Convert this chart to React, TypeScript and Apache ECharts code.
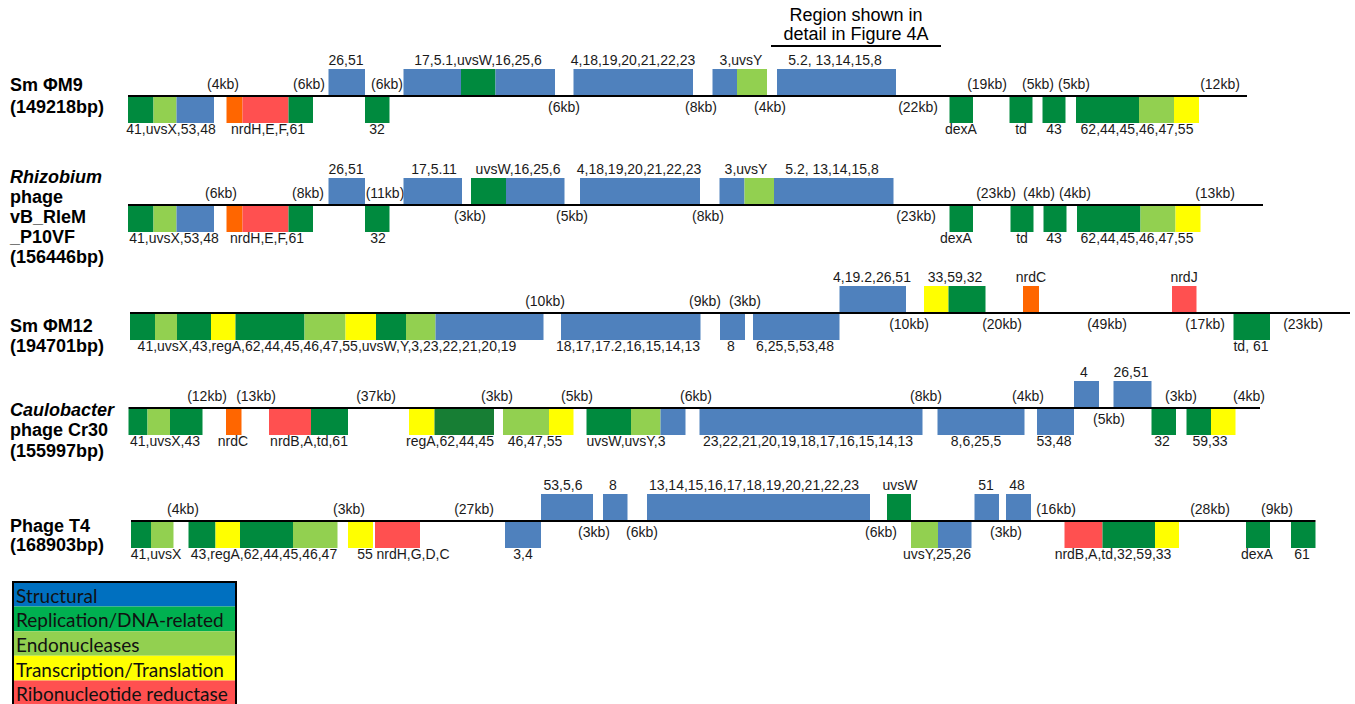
import React, { useEffect, useRef } from "react";
import * as echarts from "echarts";

// ---------- DATA ----------
// block: [start, end, kind, side]  side 1 = above backbone, -1 = below
// kinds: S structural, R replication, E endonuclease, T transcription, N nrd (red), O nrd (orange), D replication (dark)
type Block = [number, number, string, number];
// label: [centre, text, side]
type Lbl = [number, string, number];

const genomeNames: string[][] = [
  ["Sm ΦM9", "(149218bp)"],
  ["Rhizobium", "phage", "vB_RleM", "_P10VF", "(156446bp)"],
  ["Sm ΦM12", "(194701bp)"],
  ["Caulobacter", "phage Cr30", "(155997bp)"],
  ["Phage T4", "(168903bp)"],
];

const backbones: number[][] = [
  [128, 1247],
  [128, 1263],
  [130, 1350],
  [128.5, 1260],
  [131, 1315.5],
];

const m9Blocks: Block[] = [
  [128, 153.5, "R", -1], [153.5, 176.5, "E", -1], [176.5, 214, "S", -1],
  [226.5, 242.5, "O", -1], [242.5, 288.5, "N", -1], [288.5, 313, "R", -1],
  [328.5, 365, "S", 1], [365, 389.5, "R", -1],
  [403.5, 461, "S", 1], [461, 495.5, "R", 1], [495.5, 555, "S", 1],
  [573.5, 693, "S", 1],
  [712.5, 737, "S", 1], [737, 767, "E", 1],
  [777, 896, "S", 1],
  [949.5, 973, "R", -1], [1009.5, 1032.5, "R", -1], [1042.5, 1065.5, "R", -1],
  [1076, 1139, "R", -1], [1139, 1174, "E", -1], [1174, 1199, "T", -1],
];
const m9Genes: Lbl[] = [
  [171, "41,uvsX,53,48", -1], [268, "nrdH,E,F,61", -1], [377, "32", -1],
  [961, "dexA", -1], [1021, "td", -1], [1054, "43", -1], [1137, "62,44,45,46,47,55", -1],
  [346, "26,51", 1], [478, "17,5.1,uvsW,16,25,6", 1], [633, "4,18,19,20,21,22,23", 1],
  [741, "3,uvsY", 1], [835, "5.2, 13,14,15,8", 1],
];
const m9Gaps: Lbl[] = [
  [223, "(4kb)", 1], [309, "(6kb)", 1], [387, "(6kb)", 1], [564, "(6kb)", -1],
  [701, "(8kb)", -1], [770, "(4kb)", -1], [918, "(22kb)", -1], [987, "(19kb)", 1],
  [1038, "(5kb)", 1], [1074, "(5kb)", 1], [1220, "(12kb)", 1],
];

const rlemBlocks: Block[] = [
  [128, 153.5, "R", -1], [153.5, 176.5, "E", -1], [176.5, 214, "S", -1],
  [226.5, 242.5, "O", -1], [242.5, 288.5, "N", -1], [288.5, 313, "R", -1],
  [328.5, 365, "S", 1], [365, 389.5, "R", -1],
  [403.5, 462, "S", 1], [471, 506, "R", 1], [506, 564.5, "S", 1],
  [580, 700, "S", 1],
  [719.5, 744.5, "S", 1], [744.5, 774, "E", 1], [774, 893.5, "S", 1],
  [949.5, 973, "R", -1], [1010.5, 1033.5, "R", -1], [1043.5, 1066.5, "R", -1],
  [1077, 1140.5, "R", -1], [1140.5, 1175.5, "E", -1], [1175.5, 1200.5, "T", -1],
];
const rlemGenes: Lbl[] = [
  [174, "41,uvsX,53,48", -1], [267, "nrdH,E,F,61", -1], [378, "32", -1],
  [956, "dexA", -1], [1022, "td", -1], [1054, "43", -1], [1137, "62,44,45,46,47,55", -1],
  [346, "26,51", 1], [434, "17,5.11", 1], [518, "uvsW,16,25,6", 1],
  [639, "4,18,19,20,21,22,23", 1], [746, "3,uvsY", 1], [832, "5.2, 13,14,15,8", 1],
];
const rlemGaps: Lbl[] = [
  [221, "(6kb)", 1], [308, "(8kb)", 1], [385, "(11kb)", 1], [470, "(3kb)", -1],
  [572, "(5kb)", -1], [708, "(8kb)", -1], [916, "(23kb)", -1], [996, "(23kb)", 1],
  [1039, "(4kb)", 1], [1075, "(4kb)", 1], [1215, "(13kb)", 1],
];

const m12Blocks: Block[] = [
  [130, 155, "R", -1], [155, 177, "E", -1], [177, 211, "R", -1], [211, 235.5, "T", -1],
  [235.5, 304.5, "R", -1], [304.5, 345.5, "E", -1], [345.5, 376, "T", -1], [376, 406, "R", -1],
  [406, 435.5, "E", -1], [435.5, 543.5, "S", -1], [561, 700.5, "S", -1], [720, 745, "S", -1],
  [753, 839.5, "S", -1], [839.5, 906, "S", 1], [924, 948.5, "T", 1], [948.5, 985.5, "R", 1],
  [1023, 1039, "O", 1], [1172, 1196.5, "N", 1], [1233.5, 1270, "R", -1],
];
const m12Genes: Lbl[] = [
  [327, "41,uvsX,43,regA,62,44,45,46,47,55,uvsW,Y,3,23,22,21,20,19", -1],
  [628, "18,17,17.2,16,15,14,13", -1], [731, "8", -1], [795, "6,25,5,53,48", -1],
  [1251, "td, 61", -1],
  [872, "4,19.2,26,51", 1], [955, "33,59,32", 1], [1031, "nrdC", 1], [1184, "nrdJ", 1],
];
const m12Gaps: Lbl[] = [
  [545, "(10kb)", 1], [705, "(9kb)", 1], [745, "(3kb)", 1], [909, "(10kb)", -1],
  [1002, "(20kb)", -1], [1107, "(49kb)", -1], [1205, "(17kb)", -1], [1303, "(23kb)", -1],
];

const cr30Blocks: Block[] = [
  [128.5, 147.5, "R", -1], [147.5, 170, "E", -1], [170, 202.5, "R", -1],
  [226, 241.5, "O", -1], [269, 311, "N", -1], [311, 348, "R", -1],
  [409, 434.5, "T", -1], [434.5, 494, "D", -1], [503, 549, "E", -1], [549, 573.5, "T", -1],
  [586.5, 631, "R", -1], [631, 660.5, "E", -1], [660.5, 685.5, "S", -1],
  [699.5, 922.5, "S", -1], [937.5, 1024.5, "S", -1], [1037, 1074, "S", -1],
  [1074, 1099, "S", 1], [1113.5, 1151.5, "S", 1], [1151.5, 1176, "R", -1],
  [1186.5, 1211, "R", -1], [1211, 1235.5, "T", -1],
];
const cr30Genes: Lbl[] = [
  [165, "41,uvsX,43", -1], [233, "nrdC", -1], [309, "nrdB,A,td,61", -1],
  [450, "regA,62,44,45", -1], [535, "46,47,55", -1], [626, "uvsW,uvsY,3", -1],
  [808, "23,22,21,20,19,18,17,16,15,14,13", -1], [976, "8,6,25,5", -1],
  [1054, "53,48", -1], [1162, "32", -1], [1210, "59,33", -1],
  [1084, "4", 1], [1131, "26,51", 1],
];
const cr30Gaps: Lbl[] = [
  [207, "(12kb)", 1], [256, "(13kb)", 1], [376, "(37kb)", 1], [497, "(3kb)", 1],
  [577, "(5kb)", 1], [696, "(6kb)", 1], [926, "(8kb)", 1], [1028, "(4kb)", 1],
  [1109, "(5kb)", -1], [1181, "(3kb)", 1], [1249, "(4kb)", 1],
];

const t4Blocks: Block[] = [
  [131, 151, "R", -1], [151, 173.5, "E", -1], [188.5, 215.5, "R", -1], [215.5, 240, "T", -1],
  [240, 293, "R", -1], [293, 337.5, "E", -1], [348, 373, "T", -1], [375, 420, "N", -1],
  [505, 541, "S", -1], [541, 593, "S", 1], [603, 627.5, "S", 1], [647, 870, "S", 1],
  [887, 911, "R", 1], [911, 938, "E", -1], [938, 971.5, "S", -1],
  [974.5, 999, "S", 1], [1006, 1031, "S", 1],
  [1064.5, 1102.5, "N", -1], [1102.5, 1155, "R", -1], [1155, 1179, "T", -1],
  [1246, 1270, "R", -1], [1291, 1315.5, "R", -1],
];
const t4Genes: Lbl[] = [
  [156, "41,uvsX", -1], [264, "43,regA,62,44,45,46,47", -1], [365, "55", -1],
  [413, "nrdH,G,D,C", -1], [523, "3,4", -1], [937, "uvsY,25,26", -1],
  [1113, "nrdB,A,td,32,59,33", -1], [1257, "dexA", -1], [1302, "61", -1],
  [563, "53,5,6", 1], [613, "8", 1], [754, "13,14,15,16,17,18,19,20,21,22,23", 1],
  [900, "uvsW", 1], [986, "51", 1], [1017, "48", 1],
];
const t4Gaps: Lbl[] = [
  [183, "(4kb)", 1], [349, "(3kb)", 1], [474, "(27kb)", 1], [594, "(3kb)", -1],
  [642, "(6kb)", -1], [881, "(6kb)", -1], [1006, "(3kb)", -1], [1056, "(16kb)", 1],
  [1210, "(28kb)", 1], [1277, "(9kb)", 1],
];

const legendItems = [
  "Structural",
  "Replication/DNA-related",
  "Endonucleases",
  "Transcription/Translation",
  "Ribonucleotide reductase",
];
const regionNote = ["Region shown in", "detail in Figure 4A"];

// ---------- LAYOUT / STYLE ----------
const W = 1355;
const H = 704;
const rowY = [96, 205, 313, 408, 521];
const BLOCK_H = 26;
const FONT = "'Liberation Sans', Arial, Helvetica, sans-serif";
const KIND_COLORS: Record<string, string> = {
  S: "#4F81BD",
  R: "#008A3E",
  E: "#92D050",
  T: "#FFFF00",
  N: "#FF5050",
  O: "#FF6600",
  D: "#177E34",
};
const legendColors = ["#0070C0", "#00B050", "#92D050", "#FFFF00", "#FF5050"];
const italicFirst = [false, true, false, true, false];
const nameLineY = [
  [85, 107],
  [177, 197, 217, 237, 257],
  [326, 346],
  [410, 430, 451],
  [526, 545],
];

const genomes = [
  { blocks: m9Blocks, genes: m9Genes, gaps: m9Gaps },
  { blocks: rlemBlocks, genes: rlemGenes, gaps: rlemGaps },
  { blocks: m12Blocks, genes: m12Genes, gaps: m12Gaps },
  { blocks: cr30Blocks, genes: cr30Genes, gaps: cr30Gaps },
  { blocks: t4Blocks, genes: t4Genes, gaps: t4Gaps },
];

function buildOption() {
  const blockData: number[][] = [];
  const blockMeta: Block[] = [];
  const labelData: number[][] = [];
  const labelText: string[] = [];
  const gapData: number[][] = [];
  const gapText: string[] = [];
  genomes.forEach((g, r) => {
    g.blocks.forEach((b) => {
      blockData.push([b[0], b[1], rowY[r]]);
      blockMeta.push(b);
    });
    g.genes.forEach((l) => {
      labelData.push([l[0], rowY[r] + (l[2] > 0 ? -36 : 33)]);
      labelText.push(l[1]);
    });
    g.gaps.forEach((l) => {
      gapData.push([l[0], rowY[r] + (l[2] > 0 ? -12 : 11)]);
      gapText.push(l[1]);
    });
  });

  const textItem = (texts: string[]) => (params: any, api: any) => {
    const p = api.coord([api.value(0), api.value(1)]);
    return {
      type: "text",
      x: p[0],
      y: p[1],
      style: {
        text: texts[params.dataIndex],
        font: `14px ${FONT}`,
        fill: "#1a1a1a",
        align: "center",
        verticalAlign: "middle",
      },
    };
  };

  const graphic: any[] = [];
  genomeNames.forEach((lines, r) => {
    lines.forEach((t, i) => {
      graphic.push({
        type: "text",
        x: 10,
        y: nameLineY[r][i],
        style: {
          text: t,
          font: `${italicFirst[r] && i === 0 ? "italic " : ""}bold 18px ${FONT}`,
          fill: "#000",
          verticalAlign: "middle",
        },
      });
    });
  });
  regionNote.forEach((t, i) => {
    graphic.push({
      type: "text",
      x: 856,
      y: 15 + i * 19,
      style: { text: t, font: `18px ${FONT}`, fill: "#000", align: "center", verticalAlign: "middle" },
    });
  });
  graphic.push({
    type: "line",
    shape: { x1: 771, y1: 46, x2: 941, y2: 46 },
    style: { stroke: "#000", lineWidth: 2 },
  });
  const LX = 13, LY = 582, LW = 223, LH = 24.6;
  legendItems.forEach((t, i) => {
    graphic.push({
      type: "rect",
      shape: { x: LX, y: LY + i * LH, width: LW, height: LH },
      style: { fill: legendColors[i] },
    });
    graphic.push({
      type: "text",
      x: LX + 3,
      y: LY + i * LH + LH / 2 + 1,
      style: { text: t, font: `19px Lato, 'Open Sans', sans-serif`, fill: "#111", verticalAlign: "middle" },
    });
  });
  graphic.push({
    type: "rect",
    shape: { x: LX, y: LY, width: LW, height: LH * 5 + 4 },
    style: { fill: "none", stroke: "#000", lineWidth: 2 },
  });

  return {
    animation: false,
    backgroundColor: "#fff",
    grid: { left: 0, right: 0, top: 0, bottom: 0 },
    xAxis: { type: "value", min: 0, max: W, show: false },
    yAxis: { type: "value", min: 0, max: H, inverse: true, show: false },
    graphic,
    series: [
      {
        type: "custom",
        name: "gaps",
        silent: true,
        clip: false,
        encode: { x: 0, y: 1 },
        data: gapData,
        renderItem: textItem(gapText),
      },
      {
        type: "custom",
        name: "backbone",
        silent: true,
        clip: false,
        encode: { x: [0, 1], y: 2 },
        data: backbones.map((b, r) => [b[0], b[1], rowY[r]]),
        renderItem: (params: any, api: any) => {
          const a = api.coord([api.value(0), api.value(2)]);
          const c = api.coord([api.value(1), api.value(2)]);
          return {
            type: "line",
            shape: { x1: a[0], y1: a[1], x2: c[0], y2: c[1] },
            style: { stroke: "#000", lineWidth: 2 },
          };
        },
      },
      {
        type: "custom",
        name: "blocks",
        silent: true,
        clip: false,
        encode: { x: [0, 1], y: 2 },
        data: blockData,
        renderItem: (params: any, api: any) => {
          const meta = blockMeta[params.dataIndex];
          const y0 = api.value(2) + (meta[3] > 0 ? -1 : 1);
          const y1 = y0 - meta[3] * BLOCK_H;
          const a = api.coord([api.value(0), Math.min(y0, y1)]);
          const c = api.coord([api.value(1), Math.max(y0, y1)]);
          return {
            type: "rect",
            shape: { x: a[0], y: a[1], width: c[0] - a[0], height: c[1] - a[1] },
            style: { fill: KIND_COLORS[meta[2]] },
          };
        },
      },
      {
        type: "custom",
        name: "genes",
        silent: true,
        clip: false,
        encode: { x: 0, y: 1 },
        data: labelData,
        renderItem: textItem(labelText),
      },
    ],
  };
}

export default function App() {
  const ref = useRef<HTMLDivElement>(null);
  useEffect(() => {
    const chart = echarts.init(ref.current!, null, { renderer: "svg" });
    chart.setOption(buildOption() as any);
    return () => chart.dispose();
  }, []);
  return (
    <div
      ref={ref}
      style={{ position: "absolute", left: 0, top: 0, width: W, height: H, background: "#fff" }}
    />
  );
}
